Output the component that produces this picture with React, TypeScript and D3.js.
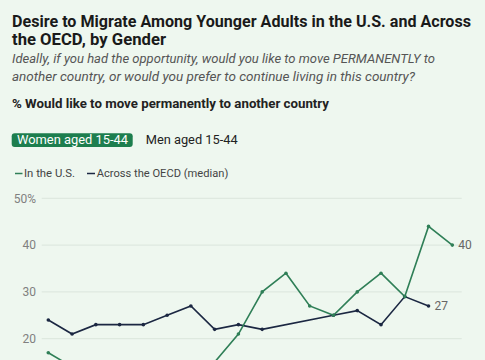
import React from "react";
import * as d3 from "d3";

const years = [2007, 2008, 2009, 2010, 2011, 2012, 2013, 2014, 2015, 2016, 2017, 2018, 2019, 2020, 2021, 2022, 2023, 2024];
const usWomen: (number | null)[] = [17, 14, 12, 12, 11, 10, 12, 15, 21, 30, 34, 27, 25, 30, 34, 29, 44, 40];
const oecdWomen: (number | null)[] = [24, 21, 23, 23, 23, 25, 27, 22, 23, 22, null, null, 25, 26, 23, 29, 27, null];
const yTicks = [20, 30, 40, 50];
const seriesNames = ["In the U.S.", "Across the OECD (median)"];
const tabs = ["Women aged 15-44", "Men aged 15-44"];

const W = 485;
const H = 360;
const BG = "#eef7ef";
const GREEN = "#2f7f57";
const NAVY = "#1b2742";
const FONT = "Roboto, 'Noto Sans', sans-serif";

export default function App() {
  const x = d3.scaleLinear().domain([0, years.length - 1]).range([48.3, 452.3]);
  const y = d3.scaleLinear().domain([20, 50]).range([338.7, 198.3]);

  const mk = (vals: (number | null)[]) => {
    const pts = vals.map((v, i) => ({ i, v })).filter((d) => d.v !== null) as { i: number; v: number }[];
    const line = d3.line<{ i: number; v: number }>().x((d) => x(d.i)).y((d) => y(d.v))(pts) || "";
    return { pts, line };
  };
  const us = mk(usWomen);
  const oecd = mk(oecdWomen);
  const usLast = us.pts[us.pts.length - 1];
  const oecdLast = oecd.pts[oecd.pts.length - 1];

  const fit = { lengthAdjust: "spacingAndGlyphs" as const };

  return (
    <div style={{ position: "absolute", left: 0, top: 0, width: W, height: H, overflow: "hidden", background: BG }}>
      <svg width={W} height={H} style={{ display: "block", fontFamily: FONT }}>
        <rect width={W} height={H} fill={BG} />
        <text x={12} y={27} fontSize={16.5} fontWeight={700} fill="#1a1a1a" textLength={459} {...fit}>
          Desire to Migrate Among Younger Adults in the U.S. and Across
        </text>
        <text x={12} y={45} fontSize={16.5} fontWeight={700} fill="#1a1a1a" textLength={154} {...fit}>
          the OECD, by Gender
        </text>
        <text x={12} y={63} fontSize={12} fontStyle="italic" fill="#555" textLength={423} {...fit}>
          Ideally, if you had the opportunity, would you like to move PERMANENTLY to
        </text>
        <text x={12} y={81} fontSize={12} fontStyle="italic" fill="#555" textLength={403} {...fit}>
          another country, or would you prefer to continue living in this country?
        </text>
        <text x={12} y={108} fontSize={12} fontWeight={700} fill="#222" textLength={317} {...fit}>
          % Would like to move permanently to another country
        </text>

        <rect x={11.7} y={133.3} width={121} height={13.6} rx={3} fill="#1d7e4e" />
        <text x={17} y={144.3} fontSize={12} fill="#fff" textLength={111} {...fit}>
          {tabs[0]}
        </text>
        <text x={145.7} y={144.3} fontSize={12} fill="#222" textLength={92} {...fit}>
          {tabs[1]}
        </text>

        <line x1={15} x2={22.5} y1={173.5} y2={173.5} stroke={GREEN} strokeWidth={1.5} />
        <text x={24} y={177} fontSize={10} fill="#444" textLength={51} {...fit}>
          {seriesNames[0]}
        </text>
        <line x1={87} x2={95} y1={173.5} y2={173.5} stroke={NAVY} strokeWidth={1.5} />
        <text x={96.7} y={177} fontSize={10} fill="#444" textLength={131.6} {...fit}>
          {seriesNames[1]}
        </text>

        {yTicks.map((t) => (
          <g key={t}>
            <line x1={41.7} x2={461.7} y1={y(t)} y2={y(t)} stroke="#dbe5dc" strokeWidth={1} />
            <text x={36} y={y(t) + 4.2} fontSize={12} fill="#808080" textAnchor="end">
              {t === 50 ? "50%" : t}
            </text>
          </g>
        ))}

        <path d={oecd.line} fill="none" stroke={NAVY} strokeWidth={1.6} />
        <path d={us.line} fill="none" stroke={GREEN} strokeWidth={1.6} />
        {oecd.pts.map((d) => (
          <circle key={"o" + d.i} cx={x(d.i)} cy={y(d.v)} r={1.8} fill={NAVY} />
        ))}
        {us.pts.map((d) => (
          <circle key={"u" + d.i} cx={x(d.i)} cy={y(d.v)} r={1.8} fill={GREEN} />
        ))}
        <text x={x(usLast.i) + 6} y={y(usLast.v) + 4.2} fontSize={12} fill="#666">
          {usLast.v}
        </text>
        <text x={x(oecdLast.i) + 6} y={y(oecdLast.v) + 4.2} fontSize={12} fill="#666">
          {oecdLast.v}
        </text>
      </svg>
    </div>
  );
}
